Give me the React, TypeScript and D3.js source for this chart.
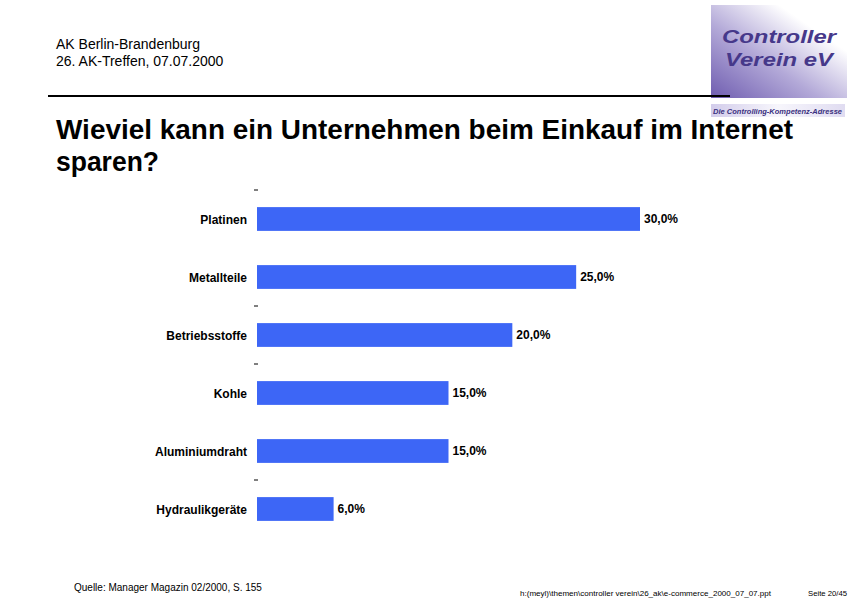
import React from "react";
import * as d3 from "d3";

const categories = ["Platinen", "Metallteile", "Betriebsstoffe", "Kohle", "Aluminiumdraht", "Hydraulikgeräte"];
const values = [30, 25, 20, 15, 15, 6];
const tickBoundaries = [0, 2, 3, 5];

const W = 855;
const H = 600;

export default function App() {
  const x = d3.scaleLinear().domain([0, 30]).range([257, 640]);
  const y = d3.scaleBand<string>().domain(categories).range([190, 538]).paddingInner(0.59).paddingOuter(0.295);
  const step = y.step();
  const fmt = (v: number) => v.toFixed(1).replace(".", ",") + "%";
  const font = "Arial, 'Liberation Sans', Helvetica, sans-serif";

  return (
    <svg width={W} height={H} style={{ position: "absolute", left: 0, top: 0, background: "#fff" }} fontFamily={font}>
      <defs>
        <linearGradient id="logoGrad" x1="0" y1="1" x2="1" y2="0">
          <stop offset="0" stopColor="#6f5db0" />
          <stop offset="0.4" stopColor="#b3a9d8" />
          <stop offset="0.75" stopColor="#ffffff" />
          <stop offset="1" stopColor="#ffffff" />
        </linearGradient>
        <linearGradient id="subGrad" x1="0" y1="0" x2="1" y2="0">
          <stop offset="0" stopColor="#d3cdeb" />
          <stop offset="0.5" stopColor="#f7f6fc" />
          <stop offset="1" stopColor="#e0dcf1" />
        </linearGradient>
      </defs>

      {/* header */}
      <text x={56} y={49} fontSize={14} fill="#000">AK Berlin-Brandenburg</text>
      <text x={56} y={66} fontSize={14} fill="#000">26. AK-Treffen, 07.07.2000</text>

      {/* logo */}
      <rect x={711} y={5} width={136} height={93} fill="url(#logoGrad)" />
      <text x={722} y={43} fontSize={19} fontWeight="900" fontStyle="italic" fill="#46388a" textLength={114} lengthAdjust="spacingAndGlyphs">Controller</text>
      <text x={725} y={66} fontSize={19} fontWeight="900" fontStyle="italic" fill="#46388a" textLength={108} lengthAdjust="spacingAndGlyphs">Verein eV</text>
      <rect x={711} y={104} width={134} height={13} fill="url(#subGrad)" />
      <text x={713} y={114} fontSize={8} fontWeight="bold" fontStyle="italic" fill="#3b3180" textLength={129} lengthAdjust="spacingAndGlyphs">Die Controlling-Kompetenz-Adresse</text>

      <line x1={48} x2={730} y1={96} y2={96} stroke="#000" strokeWidth={2} />

      {/* title */}
      <text x={56} y={139} fontSize={27} fontWeight="bold" fill="#000" textLength={737} lengthAdjust="spacingAndGlyphs">Wieviel kann ein Unternehmen beim Einkauf im Internet</text>
      <text x={56} y={171} fontSize={27} fontWeight="bold" fill="#000" textLength={103} lengthAdjust="spacingAndGlyphs">sparen?</text>

      {/* ticks */}
      {tickBoundaries.map((i) => {
        const ty = y.range()[0] + i * step;
        return <line key={i} x1={254} x2={258} y1={ty} y2={ty} stroke="#000" strokeWidth={1} />;
      })}

      {/* bars */}
      {categories.map((c, i) => {
        const by = y(c)!;
        const bh = y.bandwidth();
        return (
          <g key={c}>
            <rect x={x(0)} y={by} width={x(values[i]) - x(0)} height={bh} fill="#3d66f6" />
            <text x={247} y={by + bh / 2 + 5} fontSize={12} fontWeight="bold" textAnchor="end" fill="#000">{c}</text>
            <text x={x(values[i]) + 4} y={by + bh / 2 + 4} fontSize={12} fontWeight="bold" fill="#000">{fmt(values[i])}</text>
          </g>
        );
      })}

      {/* footer */}
      <text x={74} y={591} fontSize={10} fill="#000">Quelle: Manager Magazin 02/2000, S. 155</text>
      <text x={520} y={596} fontSize={8} fill="#000" textLength={251} lengthAdjust="spacingAndGlyphs">h:(meyl)\themen\controller verein\26_ak\e-commerce_2000_07_07.ppt</text>
      <text x={808} y={596} fontSize={7.5} fill="#000" textLength={39} lengthAdjust="spacingAndGlyphs">Seite 20/45</text>
    </svg>
  );
}
